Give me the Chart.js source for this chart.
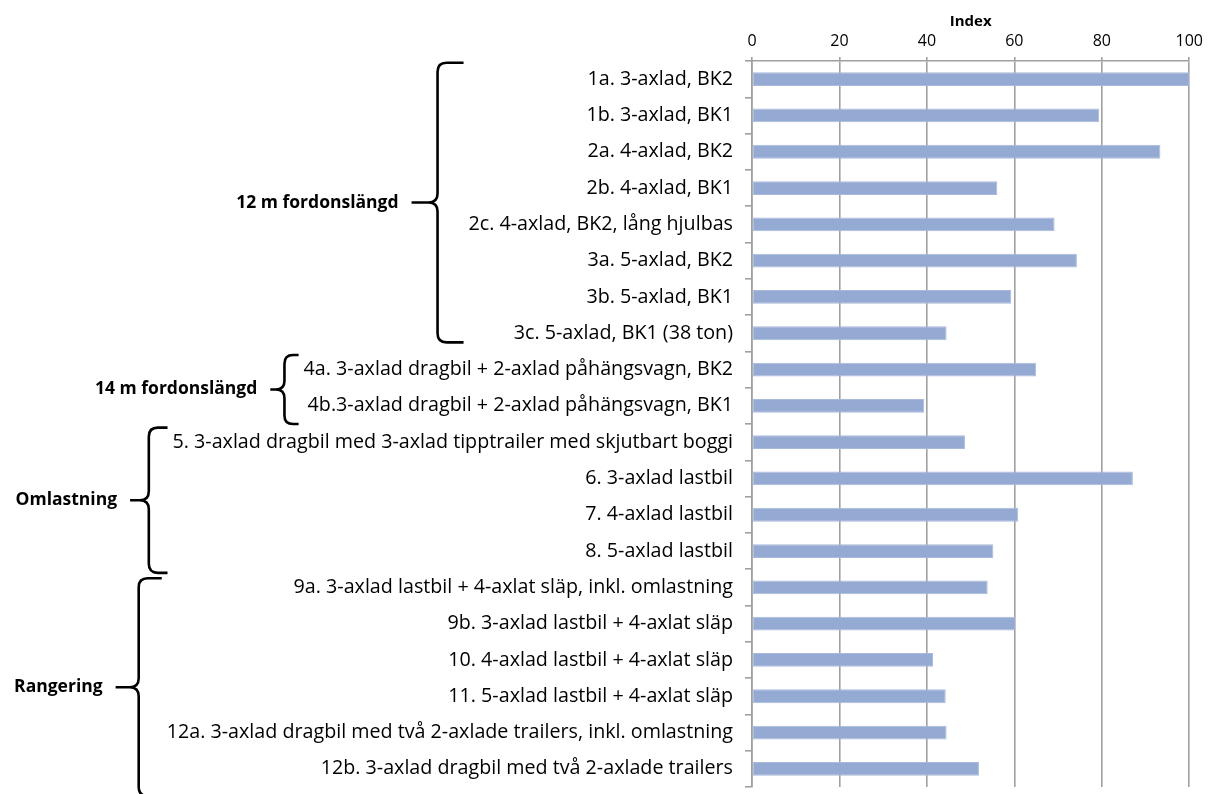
<!DOCTYPE html>
<html>
<head>
<meta charset="utf-8">
<script src="https://cdn.jsdelivr.net/npm/chart.js@4.4.1/dist/chart.umd.min.js"></script>
<style>
  html, body { margin: 0; padding: 0; background: #fff; }
  #wrap { width: 1209px; height: 794px; position: relative; }
</style>
</head>
<body>
<div id="wrap"><canvas id="chart"></canvas></div>
<script>
// Vehicle configurations (one bar each)
const categories = [
  "1a. 3-axlad, BK2",
  "1b. 3-axlad, BK1",
  "2a. 4-axlad, BK2",
  "2b. 4-axlad, BK1",
  "2c. 4-axlad, BK2, lång hjulbas",
  "3a. 5-axlad, BK2",
  "3b. 5-axlad, BK1",
  "3c. 5-axlad, BK1 (38 ton)",
  "4a. 3-axlad dragbil + 2-axlad påhängsvagn, BK2",
  "4b.3-axlad dragbil + 2-axlad påhängsvagn, BK1",
  "5. 3-axlad dragbil med 3-axlad tipptrailer med skjutbart boggi",
  "6. 3-axlad lastbil",
  "7. 4-axlad lastbil",
  "8. 5-axlad lastbil",
  "9a. 3-axlad lastbil + 4-axlat släp, inkl. omlastning",
  "9b. 3-axlad lastbil + 4-axlat släp",
  "10. 4-axlad lastbil + 4-axlat släp",
  "11. 5-axlad lastbil + 4-axlat släp",
  "12a. 3-axlad dragbil med två 2-axlade trailers, inkl. omlastning",
  "12b. 3-axlad dragbil med två 2-axlade trailers"
];

// Index value per configuration
const indexValues = [
  100, 79.4, 93.4, 56.1, 69.2, 74.3, 59.3, 44.5,
  65.0, 39.4,
  48.7, 87.1, 60.9, 55.2,
  53.9, 60.2, 41.4, 44.3, 44.5, 51.9
];

// Index axis tick values
const indexTicks = [0, 20, 40, 60, 80, 100];

// Group names and the category range each brace covers (in category units)
const groupNames  = ["12 m fordonslängd", "14 m fordonslängd", "Omlastning", "Rangering"];
const groupFirst  = [0, 8, 10, 14];
const groupLast   = [7, 9, 13, 19];
const braceStart  = [-0.45, 7.6, 9.6, 13.75];
const braceEnd    = [7.25, 9.5, 13.6, 19.75];

const FONT = "'Open Sans', 'DejaVu Sans', sans-serif";
const GRID = '#a0a0a0';
const Y_TICK_LEN = 7;
const Y_TICK_PAD = 12;
const LABEL_FONT_SIZE = 19.7;
const LABEL_WEIGHT = 500;

// Curly braces with group captions to the left of the category labels
const groupBraces = {
  id: 'groupBraces',
  afterDraw(chart) {
    const ctx = chart.ctx;
    const y = chart.scales.y;
    const labelRight = y.right - Y_TICK_LEN - Y_TICK_PAD;
    ctx.save();
    for (let g = 0; g < groupNames.length; g++) {
      ctx.font = LABEL_WEIGHT + ' ' + LABEL_FONT_SIZE + 'px ' + FONT;
      let widest = 0;
      for (let i = groupFirst[g]; i <= groupLast[g]; i++) {
        widest = Math.max(widest, ctx.measureText(categories[i]).width);
      }
      const top = y.getPixelForValue(braceStart[g]);
      const bottom = y.getPixelForValue(braceEnd[g]);
      const span = bottom - top;
      const armX = labelRight - widest - 5;
      const arm = Math.min(26, 10 + span * 0.06);
      const vx = armX - arm;
      const tipX = vx - arm;
      const mid = (top + bottom) / 2;
      const r = Math.min(9, span / 8);

      ctx.strokeStyle = '#000';
      ctx.lineWidth = 2.6;
      ctx.lineJoin = 'round';
      ctx.lineCap = 'butt';
      ctx.beginPath();
      ctx.moveTo(armX, top);
      ctx.lineTo(vx + r, top);
      ctx.quadraticCurveTo(vx, top, vx, top + r);
      ctx.lineTo(vx, mid - r);
      ctx.quadraticCurveTo(vx, mid, vx - r, mid);
      ctx.lineTo(tipX, mid);
      ctx.moveTo(vx - r, mid);
      ctx.quadraticCurveTo(vx, mid, vx, mid + r);
      ctx.lineTo(vx, bottom - r);
      ctx.quadraticCurveTo(vx, bottom, vx + r, bottom);
      ctx.lineTo(armX, bottom);
      ctx.stroke();

      ctx.fillStyle = '#000';
      ctx.font = 'bold 17.5px ' + FONT;
      ctx.textAlign = 'right';
      ctx.textBaseline = 'middle';
      ctx.fillText(groupNames[g], tipX - 13, mid);
    }
    ctx.restore();
  }
};

new Chart(document.getElementById('chart'), {
  type: 'bar',
  data: {
    labels: categories,
    datasets: [{
      data: indexValues,
      backgroundColor: '#95aad2',
      borderColor: '#a8b9dc',
      borderWidth: 1,
      borderSkipped: false,
      barPercentage: 0.38,
      categoryPercentage: 1.0
    }]
  },
  options: {
    indexAxis: 'y',
    responsive: true,
    maintainAspectRatio: false,
    animation: false,
    layout: { padding: { top: 13, right: 17, bottom: 7, left: 0 } },
    plugins: {
      legend: { display: false },
      tooltip: { enabled: false }
    },
    scales: {
      x: {
        position: 'top',
        min: 0,
        max: 100,
        afterBuildTicks(scale) {
          scale.ticks = indexTicks.map(v => ({ value: v }));
        },
        afterFit(scale) { scale.height = 48; },
        border: { color: GRID, width: 1.6 },
        grid: { color: GRID, lineWidth: 1.6, tickLength: 4, tickColor: GRID },
        ticks: {
          padding: 6,
          color: '#000',
          font: { family: FONT, size: 16, weight: LABEL_WEIGHT }
        },
        title: {
          display: true,
          text: 'Index',
          color: '#000',
          font: { family: FONT, size: 15, weight: 'bold' },
          padding: { top: 0, bottom: 0 }
        }
      },
      y: {
        afterFit(scale) {
          scale.width = 752;
          scale.paddingTop = 0;
          scale.paddingBottom = 0;
        },
        border: { color: GRID, width: 1.6 },
        grid: {
          drawOnChartArea: false,
          drawTicks: true,
          tickLength: Y_TICK_LEN,
          tickColor: GRID,
          lineWidth: 1.6,
          offset: true
        },
        ticks: {
          padding: Y_TICK_PAD,
          color: '#000',
          autoSkip: false,
          font: { family: FONT, size: LABEL_FONT_SIZE, weight: LABEL_WEIGHT }
        }
      }
    }
  },
  plugins: [groupBraces]
});
</script>
</body>
</html>
